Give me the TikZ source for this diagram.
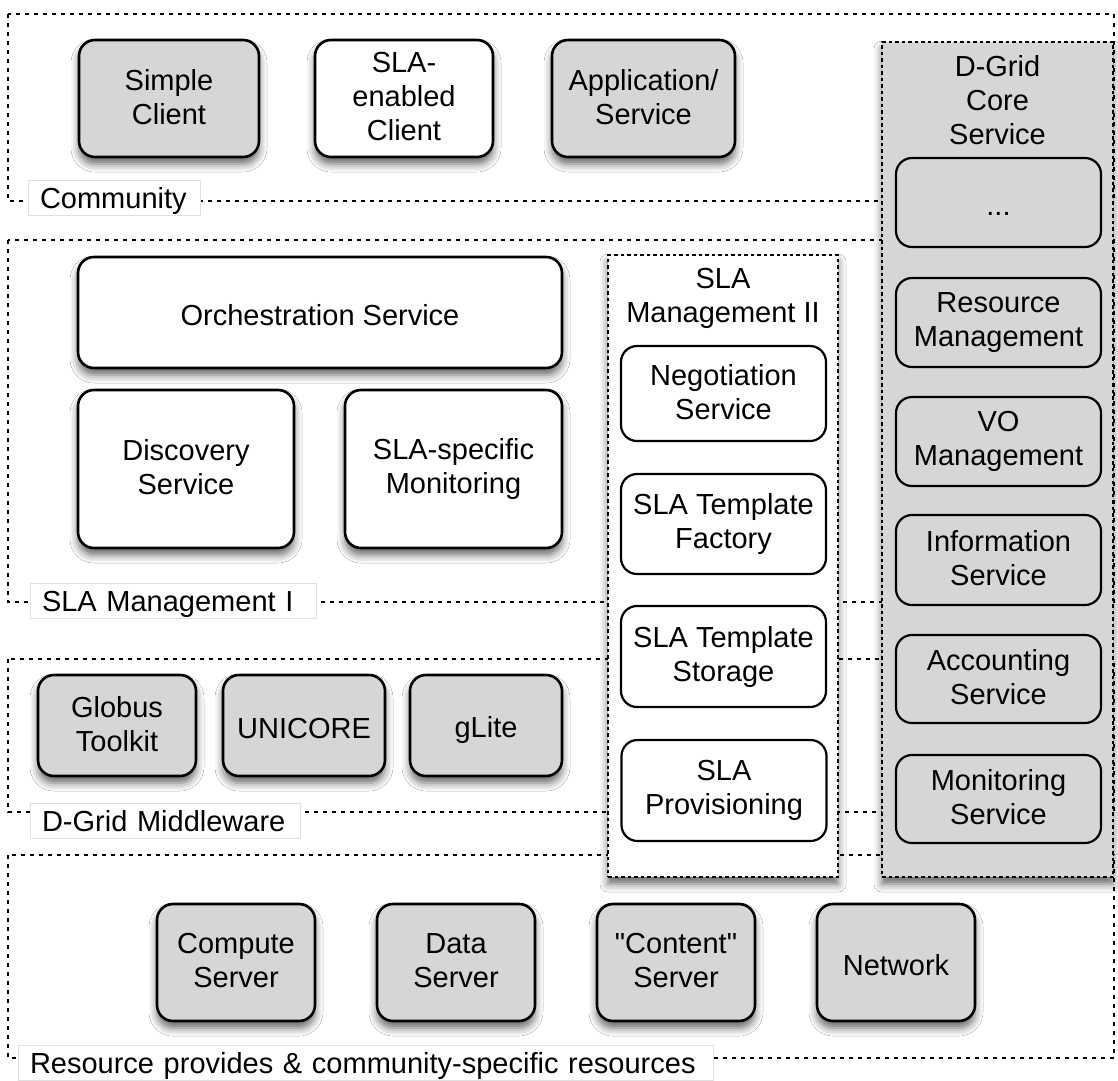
\documentclass[tikz,border=0pt]{standalone}
\usepackage{fontspec}
\setmainfont{Liberation Sans}
\newfontfamily\qfont{Liberation Sans}
\usetikzlibrary{shadows.blur}
\definecolor{boxgray}{RGB}{212,214,216}
\newcommand\mystrut{\rule[-4pt]{0pt}{34pt}}
\newcommand\lblstrut{\rule[-7pt]{0pt}{35pt}}
\tikzset{
  every node/.style={font=\fontsize{29}{34}\selectfont, align=center, inner sep=0pt},
  ms/.style={execute at begin node=\mystrut, execute at end node=\mystrut},
  sh/.style={blur shadow={shadow xshift=0pt, shadow yshift=-7pt, shadow blur radius=8pt, shadow opacity=60}},
  svc/.style={draw, line width=2.6pt, rounded corners=16pt, ms},
  graysvc/.style={svc, fill=boxgray, sh},
  whitesvc/.style={svc, fill=white, sh},
  inbox/.style={draw, line width=2.2pt, rounded corners=16pt, ms},
  layer/.style={line width=2.8pt, dash pattern=on 4pt off 5pt},
  column/.style={draw, line width=2.2pt, dash pattern=on 3.5pt off 3pt, sh},
  lbl/.style={draw=black!12, line width=0.8pt, fill=white, align=left, inner xsep=12pt,
    execute at begin node=\lblstrut, execute at end node=\lblstrut},
}
\begin{document}
\begin{tikzpicture}[x=1pt,y=-1pt]
\useasboundingbox (0,0) rectangle (1118,1080);
\fill[white] (0,0) rectangle (1118,1080);
% layers
\draw[layer] (8,14) rectangle (1114,201);
\draw[layer] (8,240) rectangle (1114,602);
\draw[layer] (8,659) rectangle (1114,812);
\draw[layer] (8,855) rectangle (1114,1058);
% layer labels
\node[lbl, text width=148] (lcom) at (114,197.5) {Community};
\node[lbl, text width=262] (lsla) at (173,600.5) {SLA Management I};
\node[lbl, text width=246] (lmid) at (165,820.5) {D-Grid Middleware};
\node[lbl, text width=671] (lres) at (365.5,1062.5) {Resource provides \& community-specific resources};
% columns
\node[column, fill=white, minimum width=230, minimum height=622] (sla2) at (723,566) {};
\node[ms] (sla2t) at (723,298) {SLA\\Management II};
\node[column, fill=boxgray, minimum width=231, minimum height=835] (core) at (997.5,459.5) {};
\node[ms] (coret) at (997.5,102) {D-Grid\\Core\\Service};
% SLA Management II contents
\node[inbox, fill=white, minimum width=205, minimum height=95] (neg) at (723.5,393.5) {Negotiation\\Service};
\node[inbox, fill=white, minimum width=205, minimum height=100] (fac) at (723.5,524) {SLA Template\\Factory};
\node[inbox, fill=white, minimum width=205, minimum height=101] (sto) at (723.5,656.5) {SLA Template\\Storage};
\node[inbox, fill=white, minimum width=205, minimum height=101] (prov) at (724,790.5) {SLA\\Provisioning};
% D-Grid core contents
\node[inbox, fill=boxgray, minimum width=205, minimum height=89] (dots) at (998.5,202.5) {...};
\node[inbox, fill=boxgray, minimum width=205, minimum height=89] (rm) at (998.5,322.5) {Resource\\Management};
\node[inbox, fill=boxgray, minimum width=205, minimum height=89] (vo) at (998.5,441.5) {VO\\Management};
\node[inbox, fill=boxgray, minimum width=205, minimum height=90] (info) at (998.5,560) {Information\\Service};
\node[inbox, fill=boxgray, minimum width=205, minimum height=88] (acc) at (998.5,679) {Accounting\\Service};
\node[inbox, fill=boxgray, minimum width=205, minimum height=88] (mon) at (998.5,799) {Monitoring\\Service};
% community
\node[graysvc, minimum width=180, minimum height=117] (simple) at (169,98.5) {Simple\\Client};
\node[whitesvc, minimum width=178, minimum height=117] (slacl) at (404,98.5) {SLA-\\enabled\\Client};
\node[graysvc, minimum width=183, minimum height=117] (app) at (643.5,98.5) {Application/\\Service};
% SLA management I
\node[whitesvc, minimum width=484, minimum height=111] (orch) at (320,312.5) {Orchestration Service};
\node[whitesvc, minimum width=216, minimum height=158] (disc) at (186,469) {Discovery\\Service};
\node[whitesvc, minimum width=217, minimum height=158] (slamon) at (453.5,469) {SLA-specific\\Monitoring};
% middleware
\node[graysvc, minimum width=158, minimum height=101] (globus) at (117,725.5) {Globus\\Toolkit};
\node[graysvc, minimum width=162, minimum height=101] (unicore) at (304,725.5) {UNICORE};
\node[graysvc, minimum width=152, minimum height=101] (glite) at (486,725.5) {gLite};
% resources
\node[graysvc, minimum width=158, minimum height=117] (compute) at (236,962.5) {Compute\\Server};
\node[graysvc, minimum width=158, minimum height=117] (data) at (456,962.5) {Data\\Server};
\node[graysvc, minimum width=158, minimum height=117] (content) at (676,962.5) {{\qfont "Content"}\\Server};
\node[graysvc, minimum width=158, minimum height=117] (network) at (896,962.5) {Network};
\end{tikzpicture}
\end{document}
